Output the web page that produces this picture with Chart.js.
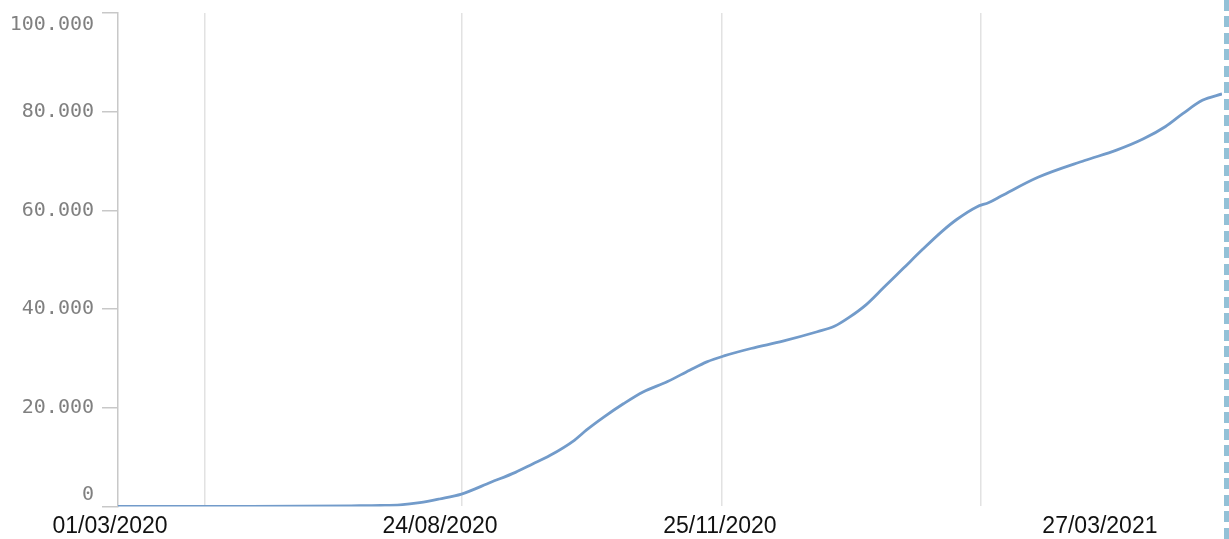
<!DOCTYPE html>
<html>
<head>
<meta charset="utf-8">
<script src="https://cdn.jsdelivr.net/npm/chart.js@4"></script>
<style>
  body { margin: 0; background: #fff; }
  #wrap { position: relative; width: 1229px; height: 539px; }
  #frame {
    position: absolute; left: 1224px; top: 0; width: 5px; height: 539px;
    background: repeating-linear-gradient(to bottom, #93c1d7 0 11px, transparent 11px 16.5px);
  }
</style>
</head>
<body>
<div id="wrap">
  <canvas id="chart"></canvas>
  <div id="frame"></div>
</div>
<script>
// días desde el inicio de la serie y valor acumulado
const days = [0, 33, 54, 74, 95, 107, 115, 123, 131, 140, 152, 162, 169, 176, 186, 191, 198, 206, 214, 224, 233, 240, 247, 258, 271, 285, 292, 298, 305, 312, 320, 328, 336, 342, 350, 355, 360, 375, 394, 407, 418, 427, 434, 442, 450]
const values = [0, 0, 10, 40, 120, 180, 300, 750, 1500, 2500, 4900, 6900, 8600, 10300, 13400, 15500, 18100, 20800, 23200, 25300, 27600, 29300, 30500, 32000, 33500, 35400, 36500, 38300, 40900, 44300, 48200, 52100, 55800, 58200, 60700, 61600, 62900, 66700, 70100, 72200, 74500, 77000, 79600, 82300, 83600]

// etiquetas del eje X y donde caen
const tickLabels = ["01/03/2020", "24/08/2020", "25/11/2020", "27/03/2021"]
const tickDays = [0, 134.5, 248.6, 403.5]
// líneas verticales de la cuadrícula
const gridDays = [35.5, 140.2, 246.2, 351.8]

const yTicks = [0, 20000, 40000, 60000, 80000, 100000]

const points = days.map((d, i) => ({ x: d, y: values[i] }))

new Chart(document.getElementById("chart"), {
  type: "line",
  data: {
    datasets: [{
      data: points,
      borderColor: "#729bca",
      borderWidth: 2.8,
      pointRadius: 0,
      cubicInterpolationMode: "monotone",
      fill: false
    }]
  },
  options: {
    responsive: true,
    maintainAspectRatio: false,
    animation: false,
    layout: { padding: { left: 0, right: 7, top: 13, bottom: -7 } },
    plugins: { legend: { display: false }, tooltip: { enabled: false } },
    scales: {
      x: {
        type: "linear",
        min: 0,
        max: 450,
        afterBuildTicks: scale => {
          scale.ticks = gridDays.map(v => ({ value: v }))
            .concat(tickDays.map(v => ({ value: v })))
        },
        border: { display: false },
        grid: {
          drawTicks: false,
          lineWidth: 1.5,
          color: ctx => (gridDays.includes(ctx.tick && ctx.tick.value) ? "#e2e2e2" : "rgba(0,0,0,0)")
        },
        ticks: {
          autoSkip: false,
          maxRotation: 0,
          padding: 6,
          labelOffset: -8,
          color: "#111",
          font: { family: "Liberation Sans", size: 23 },
          callback: value => {
            const i = tickDays.indexOf(value)
            return i >= 0 ? tickLabels[i] : ""
          }
        }
      },
      y: {
        min: 0,
        max: 100000,
        afterBuildTicks: scale => {
          scale.ticks = yTicks.map(v => ({ value: v }))
        },
        afterFit: scale => {
          scale.width = 118
          scale.paddingTop = 0
          scale.paddingBottom = 0
        },
        border: { display: true, color: "#c8c8c8", width: 1.5 },
        grid: {
          drawOnChartArea: false,
          drawTicks: true,
          tickLength: 16,
          color: "#c8c8c8",
          lineWidth: 1.5
        },
        ticks: {
          padding: 8,
          color: "#808080",
          font: { family: "DejaVu Sans Mono", size: 20, lineHeight: 1.2 },
          // las etiquetas de los extremos quedan dentro del área
          callback: value => {
            const text = value.toLocaleString("de-DE")
            if (value === yTicks[yTicks.length - 1]) return ["", text]
            if (value === yTicks[0]) return [text, ""]
            return text
          }
        }
      }
    }
  }
})
</script>
</body>
</html>
